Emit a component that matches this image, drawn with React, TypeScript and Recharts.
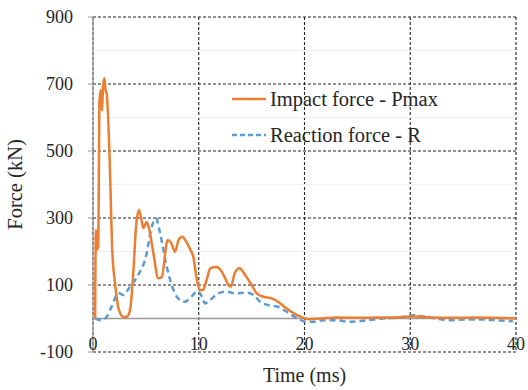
import React from 'react';
import { LineChart, Line, XAxis, YAxis, CartesianGrid, ReferenceLine } from 'recharts';

// Impact force - Pmax (time ms, force kN)
const impactTime = [0.2, 0.28, 0.35, 0.5, 0.6, 0.73, 0.85, 0.95, 1.07, 1.2, 1.29, 1.55, 1.83, 2.08, 2.46, 2.87, 3.18, 3.5, 3.81, 4.07, 4.35, 4.55, 4.76, 5.08, 5.33, 5.71, 6.18, 6.5, 7.06, 7.4, 7.75, 8.1, 8.45, 8.8, 9.2, 9.49, 9.8, 10.1, 10.4, 10.7, 11.1, 11.7, 12.07, 12.5, 12.8, 13.03, 13.4, 13.85, 14.38, 15.0, 15.48, 16.1, 16.9, 17.5, 18.3, 19.3, 20.05, 20.5, 21.5, 23, 25, 27, 29, 30.5, 32, 34, 36, 38, 40];
const impactForce = [0, 264, 205, 215, 640, 682, 620, 690, 717, 680, 673, 500, 198, 106, 25, 5, 5, 25, 136, 274, 324, 300, 270, 288, 264, 195, 120, 124, 234, 225, 199, 235, 244, 230, 205, 184, 120, 85, 85, 110, 150, 154, 145, 120, 100, 95, 135, 150, 130, 100, 75, 65, 60, 50, 30, 10, 0, -2, 0, 3, 2, 3, 4, 6, 3, 2, 3, 2, 0];

// Reaction force - R
const reactionTime = [0.2, 0.82, 1.29, 1.76, 2.4, 2.87, 3.5, 4.28, 5.08, 5.48, 5.96, 6.34, 6.97, 7.75, 8.0, 8.7, 9.3, 9.9, 10.3, 10.6, 11.06, 11.85, 12.64, 13.4, 14.5, 15.2, 15.8, 16.6, 17.5, 18.3, 19.1, 20.2, 20.8, 21.8, 23, 24.3, 26, 27.4, 29, 30.3, 31.5, 33.8, 35.5, 36.9, 38.5, 39.7];
const reactionForce = [0, -5, 5, 35, 76, 70, 95, 130, 195, 264, 299, 255, 155, 75, 62, 50, 65, 82, 65, 45, 55, 75, 80, 75, 77, 70, 50, 40, 35, 20, 5, -10, -10, -5, -5, -10, -5, 0, 3, 10, 5, -5, -3, -3, -6, -8];

const xTicks = [0, 10, 20, 30, 40];
const yTicks = [-100, 100, 300, 500, 700, 900];
const yMinor = [200, 400, 600, 800];

const impactData = impactTime.map((t, i) => ({ t, v: impactForce[i] }));
const reactionData = reactionTime.map((t, i) => ({ t, v: reactionForce[i] }));

const ORANGE = '#ED7D31';
const BLUE = '#5B9BD5';
const FONT = '"Liberation Serif", "Times New Roman", serif';
const TEXT = '#262626';

// x labels sit just above the bottom border, like the Excel original
const XTick = ({ x, y, payload }: any) => (
  <text x={x} y={y - 2} textAnchor="middle" fontFamily={FONT} fontSize={18} fill={TEXT}>
    {payload.value}
  </text>
);

const LegendBox = () => (
  <svg width={270} height={70}>
    <line x1={4} y1={19} x2={38} y2={19} stroke={ORANGE} strokeWidth={2.5} />
    <text x={42} y={26} fontFamily={FONT} fontSize={20.5} fill={TEXT}>Impact force - Pmax</text>
    <line x1={4} y1={55} x2={38} y2={55} stroke={BLUE} strokeWidth={2.5} strokeDasharray="5 3" />
    <text x={42} y={62} fontFamily={FONT} fontSize={20.5} fill={TEXT}>Reaction force - R</text>
  </svg>
);

export default function App() {
  return (
    <div style={{ position: 'absolute', left: 0, top: 0, width: 528, height: 390, background: '#fff' }}>
      <LineChart width={528} height={390} margin={{ top: 17, right: 12, left: 0, bottom: 0 }}>
        <CartesianGrid stroke="#222" strokeDasharray="3 2" strokeWidth={1.1} horizontalValues={yTicks} verticalValues={xTicks} />
        {yMinor.map((v) => (
          <ReferenceLine key={v} y={v} stroke="#efefef" strokeWidth={1} />
        ))}
        <ReferenceLine y={0} stroke="#999" strokeWidth={1.3} />
        <XAxis
          type="number"
          dataKey="t"
          domain={[0, 40]}
          ticks={xTicks}
          height={38}
          axisLine={false}
          tickLine={false}
          tickSize={0}
          tickMargin={0}
          tick={<XTick />}
          label={{ value: 'Time (ms)', position: 'insideBottom', offset: 8, style: { fontFamily: FONT, fontSize: 20, fill: TEXT } }}
        />
        <YAxis
          type="number"
          domain={[-100, 900]}
          ticks={yTicks}
          width={93}
          axisLine={{ stroke: '#999', strokeWidth: 1.3 }}
          tickLine={{ stroke: '#999' }}
          tickSize={5}
          tickMargin={15}
          tick={{ fontFamily: FONT, fontSize: 18, fill: TEXT }}
          label={{ value: 'Force (kN)', angle: -90, position: 'insideLeft', offset: 15, style: { fontFamily: FONT, fontSize: 20.5, fill: TEXT, textAnchor: 'middle' } }}
        />
        <Line data={reactionData} dataKey="v" type="monotone" stroke={BLUE} strokeWidth={2.5} strokeDasharray="6 4" dot={false} isAnimationActive={false} />
        <Line data={impactData} dataKey="v" type="monotone" stroke={ORANGE} strokeWidth={2.5} dot={false} isAnimationActive={false} />
      </LineChart>
      <div style={{ position: 'absolute', left: 228, top: 80 }}>
        <LegendBox />
      </div>
    </div>
  );
}
